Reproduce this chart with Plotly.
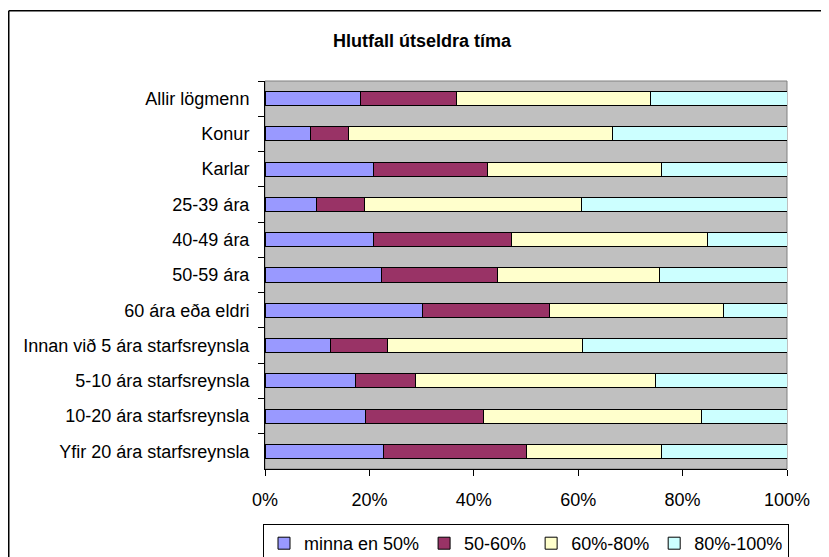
import plotly.graph_objects as go

# === 数据 ===
categories = [
    "Allir lögmenn",
    "Konur",
    "Karlar",
    "25-39 ára",
    "40-49 ára",
    "50-59 ára",
    "60 ára eða eldri",
    "Innan við 5 ára starfsreynsla",
    "5-10 ára starfsreynsla",
    "10-20 ára starfsreynsla",
    "Yfir 20 ára starfsreynsla",
]
series_names = ["minna en 50%", "50-60%", "60%-80%", "80%-100%"]
minna_en_50 = [18.2, 8.8, 20.8, 9.9, 20.8, 22.3, 30.1, 12.5, 17.3, 19.3, 22.7]
p50_60 = [18.4, 7.1, 21.9, 9.1, 26.5, 22.2, 24.4, 10.9, 11.5, 22.5, 27.3]
p60_80 = [37.2, 50.7, 33.2, 41.7, 37.4, 31.1, 33.4, 37.4, 46.1, 41.8, 25.9]
p80_100 = [26.2, 33.4, 24.1, 39.3, 15.3, 24.4, 12.1, 39.2, 25.1, 16.4, 24.1]
x_ticks = [0, 20, 40, 60, 80, 100]

# === 样式 ===
# 页面 body 有 8px 外边距，画布左上角落在 (8, 8)
_W, _H = 821, 549
_FONT = "Liberation Sans, Arial, sans-serif"
_FONT_SIZE = 18
_COLORS = ["#9999FF", "#993366", "#FFFFCC", "#CCFFFF"]
_PLOT_BG = "#C0C0C0"
_L, _R, _T, _B = 257, 779, 73, 461  # 绘图区像素边界（画布坐标）

fig = go.Figure()
for name, vals, color in zip(series_names, [minna_en_50, p50_60, p60_80, p80_100], _COLORS):
    fig.add_trace(
        go.Bar(
            y=categories,
            x=vals,
            name=name,
            orientation="h",
            marker={"color": color, "line": {"color": "black", "width": 1}},
        )
    )

_pw = _R - _L
_ph = _B - _T
fig.update_layout(
    width=_W,
    height=_H,
    barmode="stack",
    barnorm="percent",
    bargap=0.6,
    title={
        "text": "<b>Hlutfall útseldra tíma</b>",
        "x": 414 / _W,
        "xref": "container",
        "xanchor": "center",
        "y": 1 - 33 / _H,
        "yref": "container",
        "yanchor": "middle",
        "font": {"family": _FONT, "size": _FONT_SIZE, "color": "black"},
    },
    font={"family": _FONT, "size": _FONT_SIZE, "color": "black"},
    paper_bgcolor="white",
    plot_bgcolor=_PLOT_BG,
    margin={"l": _L, "r": _W - _R, "t": _T, "b": _H - _B, "autoexpand": False},
    legend={
        "orientation": "h",
        "x": 0.5,
        "xanchor": "center",
        "y": (_B - 516) / _ph,
        "yanchor": "top",
        "bordercolor": "black",
        "borderwidth": 1,
        "bgcolor": "white",
        "font": {"family": _FONT, "size": _FONT_SIZE},
        "traceorder": "normal",
        "itemwidth": 30,
    },
    showlegend=True,
)
fig.update_xaxes(
    range=[0, 100],
    tickvals=x_ticks,
    ticktext=[f"{v}%" for v in x_ticks],
    ticks="outside",
    ticklen=6,
    tickcolor="black",
    showline=True,
    linecolor="black",
    linewidth=1,
    showgrid=False,
    zeroline=False,
    ticklabelstandoff=8,
)
fig.update_yaxes(
    categoryorder="array",
    categoryarray=categories,
    autorange="reversed",
    tickson="boundaries",
    ticks="outside",
    ticklen=6,
    tickcolor="black",
    showline=True,
    linecolor="black",
    linewidth=1,
    showgrid=False,
    ticklabelstandoff=11,
)

# 绘图区灰色边框（顶部、右侧）
fig.add_shape(
    type="rect", xref="paper", yref="paper", x0=0, x1=1, y0=0, y1=1,
    line={"color": "#808080", "width": 1}, layer="below",
)
# 外框（只有左、上两边落在画面内）
_left = (0.75 - _L) / _pw
_top = 1 + (_T - 2.7) / _ph
fig.add_shape(
    type="line", xref="paper", yref="paper", x0=_left, x1=_left, y0=-2, y1=_top,
    line={"color": "black", "width": 1.5},
)
fig.add_shape(
    type="line", xref="paper", yref="paper", x0=_left, x1=3, y0=_top, y1=_top,
    line={"color": "black", "width": 1.5},
)

fig.write_html("out.html")
